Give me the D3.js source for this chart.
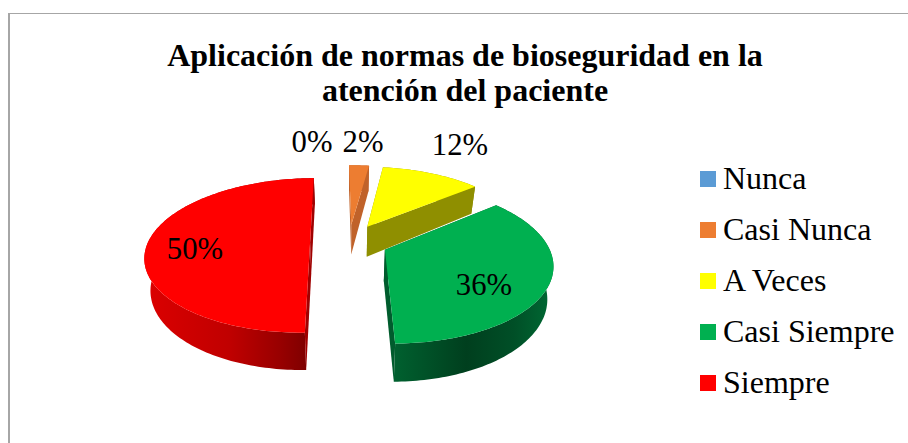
<!DOCTYPE html>
<html><head><meta charset="utf-8">
<script src="https://cdn.jsdelivr.net/npm/d3@7"></script>
<style>html,body{margin:0;padding:0;background:#fff}svg{display:block}text{font-family:"Liberation Serif",serif;fill:#000}</style>
</head><body><svg id="c" width="908" height="443"></svg>
<script>
const categories=["Nunca","Casi Nunca","A Veces","Casi Siempre","Siempre"];
const values=[0,2.38,11.9,35.72,50];
const labels=["0%","2%","12%","36%","50%"];
const titleLines=["Aplicación de normas de bioseguridad en la","atención del paciente"];
const colors=["#5b9bd5","#ed7d31","#ffff00","#00b050","#ff0000"];
const wallColors=["#3c6a92","#c0622a","#8f8f00","#005c2d","#a00000"];
const gradStops=[null,null,null,
  [[0,"#00602f"],[0.45,"#003f1e"],[0.75,"#004f27"],[1,"#006a34"]],
  [[0,"#dc0000"],[0.5,"#c00000"],[0.8,"#980000"],[1,"#780000"]]];
const labelPos=[[312,152],[363,152],[460,155],[484,295],[195,259]];

const svg=d3.select("#c");
svg.append("line").attr("x1",8).attr("x2",908).attr("y1",13.5).attr("y2",13.5).attr("stroke","#a6a6a6");
svg.append("line").attr("x1",9).attr("x2",9).attr("y1",13).attr("y2",443).attr("stroke","#a6a6a6").attr("stroke-width",2);
const t=svg.append("g").attr("text-anchor","middle").attr("font-weight","bold").attr("font-size",32);
titleLines.forEach((s,i)=>t.append("text").attr("x",465).attr("y",[66,101][i]).text(s));

// perspective projection of the pie plane
const Cx=349,Cy=242,Rx=162,K=75,P=0.17,E=0.24,D=31,Taper=0.03,startDeg=-0.8;
const proj=(u,v,z=0)=>{const s=1/(1-P*v);return [Cx+Rx*u*s*(1-Taper*z),Cy+K*v*s+D*z*s];};
const pie=d3.pie().sort(null).startAngle(startDeg*Math.PI/180).endAngle((startDeg+360)*Math.PI/180).value(d=>d);
const arcs=pie(values);
const line=d3.line().curve(d3.curveLinear);
const defs=svg.append("defs");
const pieG=svg.append("g");
[1,2,4,3].forEach(i=>{
  const a=arcs[i];
  const mid=(a.startAngle+a.endAngle)/2;
  const ox=E*Math.sin(mid),oy=-E*Math.cos(mid);
  const n=Math.max(2,Math.ceil((a.endAngle-a.startAngle)/0.02));
  const angs=d3.range(n+1).map(j=>a.startAngle+(a.endAngle-a.startAngle)*j/n);
  const rim=angs.map(th=>[ox+Math.sin(th),oy-Math.cos(th)]);
  const g=pieG.append("g");
  const wall=(pts)=>{
    const top=pts.map(p=>proj(p[0],p[1],0));
    const bot=pts.map(p=>proj(p[0],p[1],1)).reverse();
    return line(top.concat(bot))+"Z";
  };
  let fillWall=wallColors[i];
  if(gradStops[i]){
    const xs=rim.map(p=>proj(p[0],p[1])[0]);
    const lg=defs.append("linearGradient").attr("id","g"+i).attr("gradientUnits","userSpaceOnUse")
      .attr("x1",d3.min(xs)).attr("x2",d3.max(xs)).attr("y1",0).attr("y2",0);
    gradStops[i].forEach(s=>lg.append("stop").attr("offset",s[0]).attr("stop-color",s[1]));
    fillWall="url(#g"+i+")";
  }
  g.append("path").attr("d",wall(rim)).attr("fill",fillWall);
  g.append("path").attr("d",wall([[ox,oy],rim[0]])).attr("fill",wallColors[i]);
  g.append("path").attr("d",wall([[ox,oy],rim[rim.length-1]])).attr("fill",wallColors[i]);
  g.append("path").attr("d",line([[ox,oy],...rim].map(p=>proj(p[0],p[1])))+"Z").attr("fill",colors[i]);
});
const lab=svg.append("g").attr("text-anchor","middle").attr("font-size",30.7);
labels.forEach((s,i)=>lab.append("text").attr("x",labelPos[i][0]).attr("y",labelPos[i][1]).text(s));
const y=d3.scalePoint().domain(categories).range([179,383]);
const leg=svg.append("g");
categories.forEach((c,i)=>{
  leg.append("rect").attr("x",700).attr("y",y(c)-8).attr("width",16).attr("height",16).attr("fill",colors[i]);
  leg.append("text").attr("x",723).attr("y",y(c)+9.5).attr("font-size",32).text(c);
});
</script></body></html>
